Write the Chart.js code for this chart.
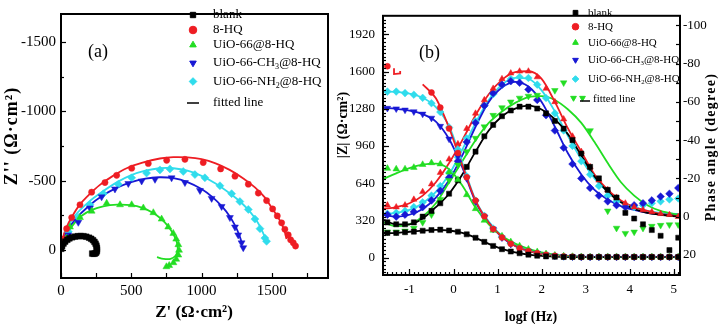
<!DOCTYPE html>
<html><head><meta charset="utf-8">
<script src="https://cdn.jsdelivr.net/npm/chart.js@4.4.1/dist/chart.umd.min.js"></script>
<style>
html,body{margin:0;padding:0;background:#fff;}
body{width:719px;height:324px;position:relative;overflow:hidden;}
canvas{position:absolute;top:0;}
#ca{left:0;}
#cb{left:332px;}
</style></head><body>
<canvas id="ca" width="332" height="324" style="width:332px;height:324px"></canvas>
<canvas id="cb" width="387" height="324" style="width:387px;height:324px"></canvas>
<script>
// ---------------- Panel (a): Nyquist data (Z', Z'') ----------------
const A_X_TICKS = [0, 500, 1000, 1500];
const A_Y_TICKS = [-1500, -1000, -500, 0];

const blankRe = [2,8,18,30,45,60,80,100,120,140,160,180,200,215,228,238,246,252,255,256,255,250,242,232,222];
const blankIm = [-10,-30,-48,-62,-75,-85,-93,-98,-101,-102,-101,-97,-90,-82,-72,-60,-47,-33,-18,-5,8,18,24,26,24];
const blankFitRe = [0,20,60,120,180,225,250,256,245,225];
const blankFitIm = [0,-50,-85,-100,-97,-75,-40,0,20,25];

const hqRe = [20,40,76,135,218,313,396,503,621,752,882,1012,1136,1238,1333,1404,1463,1506,1539,1570,1593,1617,1634,1653,1669];
const hqIm = [-80,-155,-235,-327,-418,-487,-539,-590,-624,-647,-654,-631,-585,-533,-475,-411,-357,-297,-247,-197,-151,-110,-75,-53,-30];
const hqFitRe = [0,10,40,80,135,200,277,370,467,580,704,800,900,1000,1100,1200,1300,1380,1450,1500,1540,1570,1590,1605];
const hqFitIm = [0,-80,-167,-245,-330,-400,-470,-535,-590,-630,-660,-670,-668,-655,-625,-578,-515,-452,-380,-305,-245,-190,-140,-80];

const uioRe = [40,64,135,218,325,420,503,586,657,716,763,799,820,835,840,835,820,800,770,750];
const uioIm = [-87,-167,-235,-281,-338,-327,-327,-304,-270,-224,-167,-121,-80,-40,0,35,65,90,110,119];
const uioFitRe = [0,20,50,100,150,220,300,400,500,580,650,710,760,800,825,830,815,780,730,683];
const uioFitIm = [0,-60,-130,-200,-250,-290,-316,-328,-324,-305,-272,-228,-175,-115,-55,0,40,62,62,50];

const ch3Re = [52,123,206,289,384,479,574,669,787,882,989,1072,1143,1202,1238,1261,1285,1297];
const ch3Im = [-110,-201,-304,-384,-441,-480,-498,-510,-521,-487,-430,-373,-315,-235,-167,-110,-53,-18];
const ch3FitRe = [0,10,40,100,200,300,400,500,600,700,800,900,1000,1080,1150,1200,1240,1270,1290];
const ch3FitIm = [0,-60,-130,-220,-320,-395,-450,-490,-515,-525,-518,-490,-440,-380,-310,-245,-175,-105,-40];

const nh2Re = [52,123,206,301,408,503,609,704,775,870,953,1024,1131,1214,1273,1333,1380,1416,1451,1463];
const nh2Im = [-133,-235,-327,-407,-475,-521,-555,-578,-585,-567,-544,-521,-464,-407,-350,-293,-224,-155,-87,-64];
const nh2FitRe = [0,10,40,100,200,300,400,500,600,700,800,900,1000,1100,1200,1280,1350,1400,1440,1465];
const nh2FitIm = [0,-70,-150,-250,-350,-425,-490,-540,-572,-590,-590,-572,-535,-480,-410,-345,-270,-200,-120,-55];

// ---------------- Panel (b): Bode data ----------------
const B_X_TICKS = [-1, 0, 1, 2, 3, 4, 5];
const B_Z_TICKS = [0, 320, 640, 960, 1280, 1600, 1920];
const B_PH_TICKS = [-100, -80, -60, -40, -20, 0, 20];

const logF = [-1.5,-1.3,-1.1,-0.9,-0.7,-0.5,-0.3,-0.1,0.1,0.3,0.5,0.7,0.9,1.1,1.3,1.5,1.7,1.9,2.1,2.3,2.5,2.7,2.9,3.1,3.3,3.5,3.7,3.9,4.1,4.3,4.5,4.7,4.9,5.1];
const logFFit = [-1.6,-1.3,-1.0,-0.7,-0.4,-0.1,0.2,0.5,0.8,1.1,1.4,1.7,2.0,2.3,2.6,2.9,3.2,3.5,3.8,4.1,4.4,4.7,5.1];

const blankMod = [212,212,218,223,231,237,240,233,222,200,170,135,100,72,52,37,25,16,10,7,5,5,5,5,5,5,5,5,5,5,5,5,5,5];
const hqMod = [1646,null,null,null,null,1420,1290,1110,900,690,490,355,245,172,118,80,55,37,24,15,10,7,5,5,5,5,5,5,5,5,5,5,5,5];
const uioMod = [767,762,762,775,800,815,805,735,670,540,420,320,235,185,135,100,72,50,32,20,13,9,6,5,5,5,5,5,5,5,5,5,5,5];
const ch3Mod = [1285,1280,1270,1255,1235,1200,1130,1020,870,680,480,350,245,170,115,80,55,37,24,15,10,7,5,5,5,5,5,5,5,5,5,5,5,5];
const nh2Mod = [1428,1428,1415,1401,1374,1328,1252,1120,930,700,490,360,250,175,120,82,56,38,25,16,10,7,5,5,5,5,5,5,5,5,5,5,5,5];

const blankPh = [3,4,4,3,0,-3,-7,-12,-19,-26,-34,-42,-48,-52.5,-55.5,-57.5,-57.5,-56.5,-54,-50,-46,-40,-33,-26,-20,-14,-10,-2,1,4,7,10,17.5,11];
const hqPh = [-6,-5,-6,-9,-13,-17,-23,-30,-38,-46,-54,-61,-67,-72,-75,-76,-76,-73,-67,-60,-51,-42,-34,-26,-19,-14,-10,-7,-5,-3.5,-2.5,-1.5,-1,0];
const uioPh = [8,8,7.5,6,3,-1,-9,-19,-27,-34,-41,-47,-53,-57,-60,-62,-63,-63.5,null,-66,-70,null,null,-45,null,-3,6,8.7,8,6,5,4.5,4.2,4.2];
const ch3Ph = [-1,0,-1,-2.5,-5,-8.5,-13.5,-20.5,-29,-39,-49,-58,-64.5,-69,-70.8,-70,-66.5,-61,-53,-45,-36,-27.5,-20,-15,-11,-8,-6,-5,-6,-7,-8.5,-10.5,-12,-15];
const nh2Ph = [-1.5,-2,-3,-5,-7.5,-11,-16,-23,-31,-41,-50,-58,-64,-69,-72,-73,-72.5,-69,-62,-54,-45,-37,-29,-22,-16,-11,-8,-6,-5,-6,-7,-8,-9,-9.5];

const blankModFit = [208,213,222,231,238,233,212,170,118,74,45,26,14,8,5,4,3,3,3,3,3,3,3];
const hqModFit = [null,null,null,1490,1370,1115,795,490,300,178,100,57,30,16,9,5,4,3,3,3,3,3,3];
const uioModFit = [675,725,770,800,808,760,620,430,285,185,120,75,45,25,14,8,5,4,3,3,3,3,3];
const ch3ModFit = [1287,1280,1265,1235,1170,1020,775,480,300,175,100,57,30,16,9,5,4,3,3,3,3,3,3];
const nh2ModFit = [1428,1425,1410,1375,1295,1130,815,495,310,185,105,60,32,17,9,5,4,3,3,3,3,3,3];

const blankPhFit = [1.5,4,4,1,-5,-12,-22,-34,-45,-52.5,-56.5,-58,-56,-51,-43,-32,-21,-13,-7.5,-4,-2,-1,0];
const hqPhFit = [-4,-5,-7,-11,-18,-28,-40,-53,-64,-71.5,-75.5,-76,-72,-60,-46,-34,-22,-14,-8.5,-5,-3,-1.5,0];
const uioPhFit = [3,5,4,0,-7,-18,-29,-40,-49,-55,-59.5,-62.5,-63,-61,-56,-49,-39,-28,-18,-11,-6,-3,-1];
const ch3PhFit = [-1,0,-1,-4,-10,-19,-32,-47,-60,-67.5,-70.5,-68,-60,-47,-33,-22,-14,-9,-5.5,-3.5,-2,-1.2,-1];
const nh2PhFit = [-1.5,-2,-3.5,-7,-13,-22,-35,-49,-61,-69,-72.5,-72,-66,-55,-42,-30,-20,-13,-8,-5,-3,-2,-1.5];

const hqFragF = [-1.35,-1.35,-1.21,-1.21];
const hqFragMod = [1628,1579,1584,1606];

const LEGEND_LABELS = [
  [['blank']], [['8-HQ']], [['UiO-66@8-HQ']],
  [['UiO-66-CH'],['3','sub'],['@8-HQ']],
  [['UiO-66-NH'],['2','sub'],['@8-HQ']],
  [['fitted line']]
];

// ---------------- styling ----------------
const F = '"Liberation Serif", "Times New Roman", serif';
const C_BLACK = '#000000', C_RED = '#ee1d23', C_GREEN = '#22dd22', C_BLUE = '#1818d4', C_CYAN = '#30dcec';
const LEG_STYLES = [
  {style:'rect', rot:0, color:C_BLACK},
  {style:'circle', rot:0, color:C_RED},
  {style:'triangle', rot:0, color:C_GREEN},
  {style:'triangle', rot:180, color:C_BLUE},
  {style:'rectRot', rot:0, color:C_CYAN}
];

function pts(xs, ys){ const o=[]; xs.forEach((x,i)=>{ if(ys[i]!==null && ys[i]!==undefined) o.push({x:x,y:ys[i]}); }); return o; }
function mk(xs, ys, color, style, r, rot, yAxisID){
  return {data:pts(xs,ys), showLine:false, pointStyle:style, pointRadius:r, pointRotation:rot||0,
    backgroundColor:color, borderColor:color, pointBorderWidth:0.5, yAxisID:yAxisID||'y'};
}
function ln(xs, ys, color, yAxisID, mono){
  const d = {data:pts(xs,ys), showLine:true, pointRadius:0, borderColor:color, backgroundColor:color,
    borderWidth:1.8, yAxisID:yAxisID||'y', tension:0.35};
  if(mono){ d.cubicInterpolationMode='monotone'; }
  return d;
}
function range(a,b,s){ const o=[]; for(let v=a; v<=b+1e-9; v+=s) o.push(Math.round(v*1000)/1000); return o; }

function drawSegs(ctx, segs, x, y, size){
  segs.forEach(s=>{
    const sub = s[1]==='sub';
    ctx.font = (sub ? size*0.62 : size) + 'px ' + F;
    ctx.fillText(s[0], x, sub ? y + size*0.3 : y);
    x += ctx.measureText(s[0]).width;
  });
}

function decor(cfg){
  return {
    id:'decor',
    afterDatasetsDraw(chart){
      const ctx=chart.ctx, a=chart.chartArea;
      ctx.save(); ctx.strokeStyle='#000'; ctx.lineWidth=1.2;
      cfg.ticks.forEach(t=>{
        const s=chart.scales[t.axis];
        t.values.forEach(v=>{
          const p=Math.round(s.getPixelForValue(v))+0.5;
          ctx.beginPath();
          if(t.side==='bottom'){ ctx.moveTo(p,a.bottom); ctx.lineTo(p,a.bottom-t.len); }
          else if(t.side==='left'){ ctx.moveTo(a.left,p); ctx.lineTo(a.left+t.len,p); }
          else { ctx.moveTo(a.right,p); ctx.lineTo(a.right-t.len,p); }
          ctx.stroke();
        });
      });
      ctx.lineWidth=2;
      ctx.strokeRect(a.left,a.top,a.right-a.left,a.bottom-a.top);
      ctx.restore();
    },
    afterDraw(chart){
      const ctx=chart.ctx;
      ctx.save(); ctx.fillStyle='#000'; ctx.textBaseline='middle';
      cfg.texts.forEach(t=>{
        ctx.save(); ctx.translate(t.x,t.y); if(t.rot) ctx.rotate(t.rot);
        ctx.font=t.font; ctx.textAlign='center';
        if(t.ls){ ctx.letterSpacing=t.ls+'px'; }
        ctx.fillText(t.text,0,0); ctx.restore();
      });
      const L=cfg.legend;
      ctx.textAlign='left';
      LEGEND_LABELS.forEach((segs,i)=>{
        const y=L.ys[i];
        ctx.fillStyle='#000';
        if(i<5){
          const st=LEG_STYLES[i];
          ctx.save(); ctx.fillStyle=st.color; ctx.strokeStyle=st.color;
          Chart.helpers.drawPoint(ctx,{pointStyle:st.style,rotation:st.rot,radius:L.r,borderWidth:0.5},L.mx,y);
          ctx.restore();
          ctx.fillStyle='#000';
          drawSegs(ctx,segs,L.tx,y,L.size);
        } else {
          if(L.fitMarks){
            L.fitMarks.forEach(fx=>{
              ctx.save(); ctx.fillStyle=C_GREEN; ctx.strokeStyle=C_GREEN;
              Chart.helpers.drawPoint(ctx,{pointStyle:'triangle',rotation:180,radius:L.r,borderWidth:0.5},fx,y-1);
              ctx.restore();
            });
          }
          ctx.save(); ctx.strokeStyle='#000'; ctx.lineWidth=1.5; ctx.beginPath();
          ctx.moveTo(L.line[0],y+L.line[2]); ctx.lineTo(L.line[1],y+L.line[2]); ctx.stroke(); ctx.restore();
          ctx.fillStyle='#000';
          drawSegs(ctx,segs,L.ftx,y,L.size);
        }
      });
      ctx.restore();
    }
  };
}

function tickOpts(size, padding){
  return {padding:padding, font:{family:F,size:size}, color:'#000', autoSkip:false, maxRotation:0, minRotation:0,
    callback:(v)=>String(v)};
}

// ---------------- Chart (a) ----------------
new Chart(document.getElementById('ca'),{
  type:'scatter',
  data:{datasets:[
    mk(blankRe,blankIm,C_BLACK,'rect',4,0),
    mk(hqRe,hqIm,C_RED,'circle',3.1,0),
    mk(uioRe,uioIm,C_GREEN,'triangle',4,0),
    mk(ch3Re,ch3Im,C_BLUE,'triangle',4,180),
    mk(nh2Re,nh2Im,C_CYAN,'rectRot',4,0),
    ln(blankFitRe,blankFitIm,C_BLACK,'y'),
    ln(hqFitRe,hqFitIm,C_RED,'y'),
    ln(uioFitRe,uioFitIm,C_GREEN,'y'),
    ln(ch3FitRe,ch3FitIm,C_BLUE,'y'),
    ln(nh2FitRe,nh2FitIm,C_CYAN,'y')
  ]},
  options:{
    responsive:false, animation:false, devicePixelRatio:1, events:[],
    layout:{autoPadding:false, padding:{top:2,right:4,left:0,bottom:0}},
    plugins:{legend:{display:false},tooltip:{enabled:false}},
    scales:{
      x:{type:'linear',position:'bottom',min:0,max:1900,
        afterFit(s){ s.height=46; },
        afterBuildTicks(s){ s.ticks=A_X_TICKS.map(v=>({value:v})); },
        grid:{display:false,drawTicks:false}, border:{display:false},
        ticks:tickOpts(15,4)},
      y:{type:'linear',position:'left',reverse:true,min:-1700,max:200,
        afterFit(s){ s.width=61; },
        afterBuildTicks(s){ s.ticks=A_Y_TICKS.map(v=>({value:v})); },
        grid:{display:false,drawTicks:false}, border:{display:false},
        ticks:tickOpts(15,5)}
    }
  },
  plugins:[decor({
    ticks:[
      {axis:'x',side:'bottom',values:A_X_TICKS.concat([250,750,1250,1750]),len:5},
      {axis:'y',side:'left',values:A_Y_TICKS,len:5},
      {axis:'y',side:'left',values:[-1250,-750,-250],len:3}
    ],
    texts:[
      {text:"Z'' (Ω·cm²)", x:12.5, y:136, rot:-Math.PI/2, font:'bold 18px '+F, ls:1},
      {text:"Z' (Ω·cm²)", x:194, y:313, font:'bold 17px '+F},
      {text:'(a)', x:98, y:52, font:'18px '+F}
    ],
    legend:{mx:193, tx:213, ys:[15,30,45,63,81.5,103], size:13, r:3.8, line:[187,199,0], ftx:213}
  })]
});

// ---------------- Chart (b) ----------------
new Chart(document.getElementById('cb'),{
  type:'scatter',
  data:{datasets:[
    mk(logF,blankMod,C_BLACK,'rect',3.6,0,'y'),
    mk(logF,hqMod,C_RED,'circle',3,0,'y'),
    mk(logF,uioMod,C_GREEN,'triangle',3.8,0,'y'),
    mk(logF,ch3Mod,C_BLUE,'triangle',3.8,180,'y'),
    mk(logF,nh2Mod,C_CYAN,'rectRot',3.8,0,'y'),
    mk(logF,blankPh,C_BLACK,'rect',3.6,0,'y2'),
    mk(logF,hqPh,C_RED,'triangle',3.6,0,'y2'),
    mk(logF,uioPh,C_GREEN,'triangle',3.8,180,'y2'),
    mk(logF,ch3Ph,C_BLUE,'rectRot',3.8,0,'y2'),
    mk(logF,nh2Ph,C_CYAN,'rectRot',3.8,0,'y2'),
    ln(logFFit,blankModFit,C_BLACK,'y',true),
    ln(logFFit,hqModFit,C_RED,'y',true),
    ln(logFFit,uioModFit,C_GREEN,'y',true),
    ln(logFFit,ch3ModFit,C_BLUE,'y',true),
    ln(logFFit,nh2ModFit,C_CYAN,'y',true),
    ln(logFFit,blankPhFit,C_BLACK,'y2',true),
    ln(logFFit,hqPhFit,C_RED,'y2',true),
    ln(logFFit,uioPhFit,C_GREEN,'y2',true),
    ln(logFFit,ch3PhFit,C_BLUE,'y2',true),
    ln(logFFit,nh2PhFit,C_CYAN,'y2',true),
    Object.assign(ln(hqFragF,hqFragMod,C_RED,'y',false),{tension:0})
  ]},
  options:{
    responsive:false, animation:false, devicePixelRatio:1, events:[],
    layout:{autoPadding:false, padding:{top:2,right:0,left:0,bottom:0}},
    plugins:{legend:{display:false},tooltip:{enabled:false}},
    scales:{
      x:{type:'linear',position:'bottom',min:-1.6,max:5.14,
        afterFit(s){ s.height=49; },
        afterBuildTicks(s){ s.ticks=B_X_TICKS.map(v=>({value:v})); },
        grid:{display:false,drawTicks:false}, border:{display:false},
        ticks:tickOpts(13,7)},
      y:{type:'linear',position:'left',min:-150,max:2080,
        afterFit(s){ s.width=51; },
        afterBuildTicks(s){ s.ticks=B_Z_TICKS.map(v=>({value:v})); },
        grid:{display:false,drawTicks:false}, border:{display:false},
        ticks:tickOpts(13,8)},
      y2:{type:'linear',position:'right',reverse:true,min:-105,max:30.5,
        afterFit(s){ s.width=39; },
        afterBuildTicks(s){ s.ticks=B_PH_TICKS.map(v=>({value:v})); },
        grid:{display:false,drawTicks:false}, border:{display:false},
        ticks:tickOpts(13,3)}
    }
  },
  plugins:[decor({
    ticks:[
      {axis:'x',side:'bottom',values:range(-1.5,5.1,0.1),len:3},
      {axis:'x',side:'bottom',values:B_X_TICKS,len:6},
      {axis:'y',side:'left',values:range(-128,2048,32),len:3},
      {axis:'y',side:'left',values:B_Z_TICKS,len:6},
      {axis:'y2',side:'right',values:range(-100,30,10),len:4}
    ],
    texts:[
      {text:'|Z| (Ω·cm²)', x:11, y:125, rot:-Math.PI/2, font:'bold 14px '+F},
      {text:'Phase angle (degree)', x:379, y:147, rot:-Math.PI/2, font:'bold 14px '+F, ls:1.3},
      {text:'logf (Hz)', x:199, y:317, font:'bold 14px '+F},
      {text:'(b)', x:97.5, y:53, font:'18px '+F}
    ],
    legend:{mx:243.5, tx:256, ys:[12.7,26.7,42.7,60,79,99], size:11, r:3.3, fitMarks:[241.5,250.5], line:[248,258,2], ftx:261}
  })]
});
</script></body></html>
